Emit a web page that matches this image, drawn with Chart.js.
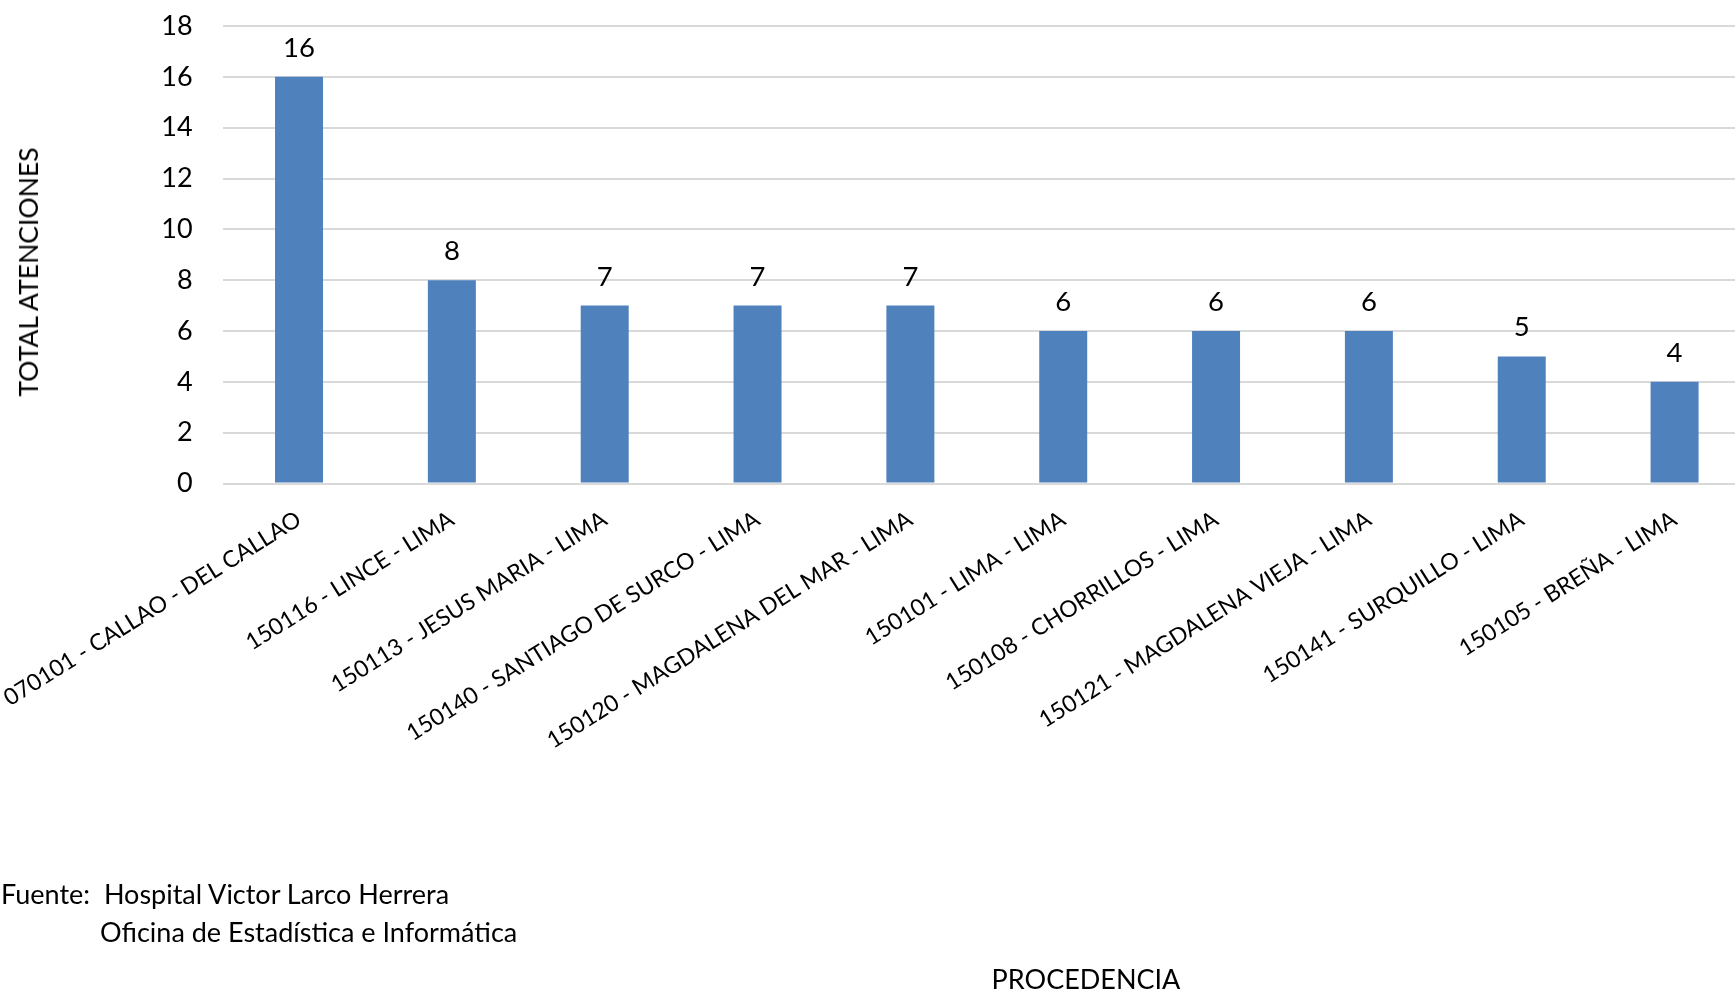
<!DOCTYPE html>
<html>
<head>
<meta charset="utf-8">
<script src="https://cdn.jsdelivr.net/npm/chart.js@4.4.1/dist/chart.umd.min.js"></script>
<style>
  html, body { margin: 0; padding: 0; background: #fff; overflow: hidden; }
  #wrap { position: relative; width: 1735px; height: 992px; overflow: hidden; }
  canvas { position: absolute; left: 0; top: 0; }
  .note {
    position: absolute;
    font-family: Lato, sans-serif;
    font-size: 27px;
    color: #000;
    white-space: pre;
    line-height: 32px;
    transform: translateY(-50%);
  }
  #yTitle {
    position: absolute;
    left: 28px;
    top: 272px;
    font-family: Lato, sans-serif;
    font-size: 26.5px;
    color: #000;
    white-space: nowrap;
    transform: translate(-50%, -50%) rotate(-90deg);
  }
</style>
</head>
<body>
<div id="wrap">
  <canvas id="chart" width="1751" height="992"></canvas>
  <div id="yTitle">TOTAL ATENCIONES</div>
  <div class="note" style="left:1px; top:894px;">Fuente:  Hospital Victor Larco Herrera</div>
  <div class="note" style="left:100px; top:932px;">Oficina de Estadística e Informática</div>
  <div class="note" style="left:1086px; top:979px; transform:translate(-50%,-50%);">PROCEDENCIA</div>
</div>
<script>
const categories = [
  "070101 - CALLAO - DEL CALLAO",
  "150116 - LINCE - LIMA",
  "150113 - JESUS MARIA - LIMA",
  "150140 - SANTIAGO DE SURCO - LIMA",
  "150120 - MAGDALENA DEL MAR - LIMA",
  "150101 - LIMA - LIMA",
  "150108 - CHORRILLOS - LIMA",
  "150121 - MAGDALENA VIEJA - LIMA",
  "150141 - SURQUILLO - LIMA",
  "150105 - BREÑA - LIMA"
];
const atenciones = [16, 8, 7, 7, 7, 6, 6, 6, 5, 4];
const yMin = 0;
const yMax = 18;
const yStep = 2;

const FONT = "Lato, sans-serif";

// value labels above each bar
const barLabels = {
  id: "barLabels",
  afterDatasetsDraw(chart) {
    const ctx = chart.ctx;
    const meta = chart.getDatasetMeta(0);
    ctx.save();
    ctx.font = "27.5px " + FONT;
    ctx.fillStyle = "#000";
    ctx.textAlign = "center";
    ctx.textBaseline = "alphabetic";
    meta.data.forEach((bar, i) => {
      ctx.fillText(String(atenciones[i]), bar.x, bar.y - 20);
    });
    ctx.restore();
  }
};

new Chart(document.getElementById("chart"), {
  type: "bar",
  data: {
    labels: categories,
    datasets: [{
      label: "Total atenciones",
      data: atenciones,
      backgroundColor: "#4f81bd",
      borderWidth: 0,
      barPercentage: 0.314,
      categoryPercentage: 1
    }]
  },
  options: {
    responsive: false,
    animation: false,
    layout: { padding: { top: 26, left: 0, right: 0, bottom: 0 } },
    plugins: {
      legend: { display: false },
      tooltip: { enabled: false }
    },
    scales: {
      x: {
        grid: { display: false },
        border: { display: false },
        ticks: {
          color: "#000",
          font: { family: FONT, size: 23 },
          minRotation: 32,
          maxRotation: 32,
          autoSkip: false,
          padding: 14
        },
        afterFit(scale) {
          scale.height = 508.5;
          scale.paddingLeft = 0;
          scale.paddingRight = 0;
        }
      },
      y: {
        min: yMin,
        max: yMax,
        grid: { color: "#d9d9d9", lineWidth: 2, drawTicks: false },
        border: { display: false },
        ticks: {
          stepSize: yStep,
          color: "#000",
          font: { family: FONT, size: 27 },
          padding: 30
        },
        afterFit(scale) {
          scale.width = 222.6;
          scale.paddingTop = 0;
          scale.paddingBottom = 0;
        }
      }
    }
  },
  plugins: [barLabels]
});
</script>
</body>
</html>
